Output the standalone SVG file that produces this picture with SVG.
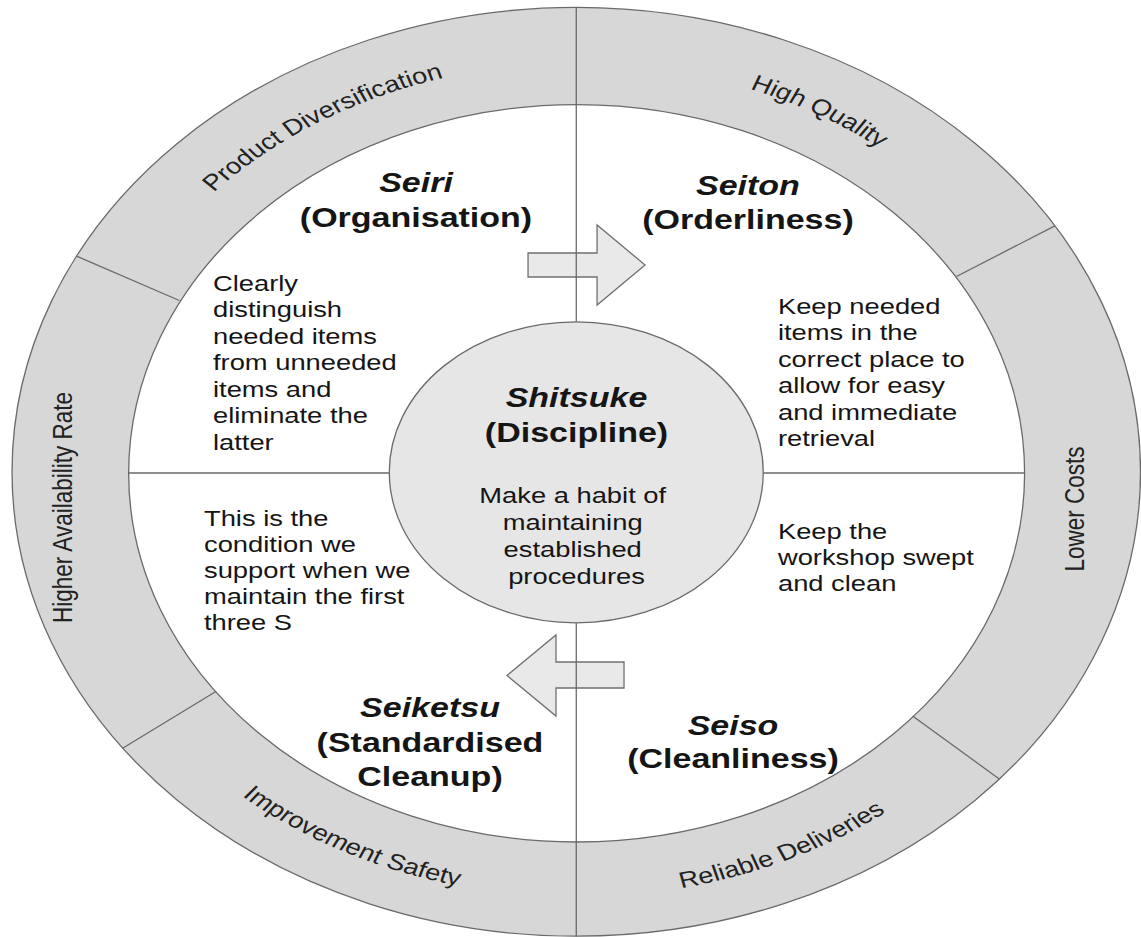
<svg xmlns="http://www.w3.org/2000/svg" width="1141" height="937" viewBox="0 0 1141 937">
  <style>
    .ln { stroke: #6a6a6a; stroke-width: 1.3; fill: none; vector-effect: non-scaling-stroke; }
    .ring { fill: #d7d7d7; stroke: #6a6a6a; stroke-width: 1.3; vector-effect: non-scaling-stroke; }
    .core { fill: #ffffff; stroke: #6a6a6a; stroke-width: 1.3; vector-effect: non-scaling-stroke; }
    .hub { fill: #e6e6e6; stroke: #6a6a6a; stroke-width: 1.3; vector-effect: non-scaling-stroke; }
    .arrow { fill: #e9e9e9; stroke: #707070; stroke-width: 1.3; vector-effect: non-scaling-stroke; }
    text { font-family: "Liberation Sans", Arial, sans-serif; fill: #151515; }
    .body { font-size: 22.5px; }
    .head { font-size: 28px; font-weight: bold; text-anchor: middle; }
    .it { font-style: italic; }
    .mid { text-anchor: middle; }
    .band { font-size: 22.5px; fill: #222; }
  </style>
  <defs>
    <path id="arcProduct" d="M112.2,281.9 A409,409 0 0 1 474.3,63"/>
    <path id="arcQuality" d="M474.3,63 A409,409 0 0 1 821.1,255.3"/>
    <path id="arcSafety" d="M132.6,724.8 A425,425 0 0 0 474.3,897"/>
    <path id="arcDelivery" d="M474.3,897 A425,425 0 0 0 793.1,753.1"/>
  </defs>

  <!-- drawn on a round layout, stretched horizontally -->
  <g transform="scale(1.215 1)">
    <g id="ring">
      <circle class="ring" cx="474.3" cy="471.8" r="464.4"/>
      <circle class="core" cx="474.6" cy="473.3" r="368.7"/>
    </g>

    <g id="ring-labels">
      <text class="band"><textPath href="#arcProduct" startOffset="50%" text-anchor="middle">Product Diversification</textPath></text>
      <text class="band"><textPath href="#arcQuality" startOffset="50%" text-anchor="middle">High Quality</textPath></text>
      <text class="band mid" transform="translate(892.2 509) rotate(-90)">Lower Costs</text>
      <text class="band"><textPath href="#arcDelivery" startOffset="50%" text-anchor="middle">Reliable Deliveries</textPath></text>
      <text class="band"><textPath href="#arcSafety" startOffset="50%" text-anchor="middle">Improvement Safety</textPath></text>
      <text class="band mid" transform="translate(59.3 507.5) rotate(-90)">Higher Availability Rate</text>
    </g>

    <g id="connectors">
      <!-- ring dividers -->
      <line class="ln" x1="63.0" y1="256.1" x2="147.6" y2="300.5"/>
      <line class="ln" x1="868.2" y1="225.9" x2="787.2" y2="276.5"/>
      <line class="ln" x1="100.9" y1="748.3" x2="177.7" y2="691.5"/>
      <line class="ln" x1="822.7" y1="779.2" x2="751.1" y2="716.0"/>
      <!-- flow arrows -->
      <polygon class="arrow" points="434.6,253 491.4,253 491.4,225 530.9,265 491.4,305 491.4,277 434.6,277"/>
      <polygon class="arrow" points="513.6,662 457.6,662 457.6,635 417.3,675.5 457.6,716 457.6,688 513.6,688"/>
      <!-- quadrant axes -->
      <line class="ln" x1="474.3" y1="7.4" x2="474.3" y2="321.8"/>
      <line class="ln" x1="474.3" y1="622.8" x2="474.3" y2="936.2"/>
      <line class="ln" x1="105.9" y1="473" x2="320.4" y2="473"/>
      <line class="ln" x1="628.2" y1="473" x2="843.3" y2="473"/>
    </g>

    <g id="shitsuke">
      <ellipse class="hub" cx="474.3" cy="472.3" rx="153.9" ry="150.5"/>
      <text class="head it" x="474.5" y="407">Shitsuke</text>
      <text class="head" x="474.5" y="442">(Discipline)</text>
      <text class="body mid">
        <tspan x="474.5" y="503">Make a habit of</tspan>
        <tspan x="474.5" y="530">maintaining</tspan>
        <tspan x="474.5" y="557">established</tspan>
        <tspan x="474.5" y="584">procedures</tspan>
      </text>
    </g>

    <g id="seiri">
      <text class="head it" x="342.4" y="192">Seiri</text>
      <text class="head" x="342.4" y="227">(Organisation)</text>
      <text class="body">
        <tspan x="175.3" y="291">Clearly</tspan>
        <tspan x="175.3" y="317.5">distinguish</tspan>
        <tspan x="175.3" y="344">needed items</tspan>
        <tspan x="175.3" y="370.5">from unneeded</tspan>
        <tspan x="175.3" y="397">items and</tspan>
        <tspan x="175.3" y="423.5">eliminate the</tspan>
        <tspan x="175.3" y="450">latter</tspan>
      </text>
    </g>

    <g id="seiton">
      <text class="head it" x="615.6" y="195">Seiton</text>
      <text class="head" x="615.6" y="229">(Orderliness)</text>
      <text class="body">
        <tspan x="640.3" y="314">Keep needed</tspan>
        <tspan x="640.3" y="340.5">items in the</tspan>
        <tspan x="640.3" y="367">correct place to</tspan>
        <tspan x="640.3" y="393.5">allow for easy</tspan>
        <tspan x="640.3" y="420">and immediate</tspan>
        <tspan x="640.3" y="446.5">retrieval</tspan>
      </text>
    </g>

    <g id="seiso">
      <text class="body">
        <tspan x="640.3" y="539">Keep the</tspan>
        <tspan x="640.3" y="565">workshop swept</tspan>
        <tspan x="640.3" y="591">and clean</tspan>
      </text>
      <text class="head it" x="603.3" y="735">Seiso</text>
      <text class="head" x="603.3" y="768">(Cleanliness)</text>
    </g>

    <g id="seiketsu">
      <text class="body">
        <tspan x="167.9" y="526">This is the</tspan>
        <tspan x="167.9" y="552">condition we</tspan>
        <tspan x="167.9" y="578">support when we</tspan>
        <tspan x="167.9" y="604">maintain the first</tspan>
        <tspan x="167.9" y="630">three S</tspan>
      </text>
      <text class="head it" x="353.9" y="717">Seiketsu</text>
      <text class="head" x="353.9" y="752">(Standardised</text>
      <text class="head" x="353.9" y="786">Cleanup)</text>
    </g>
  </g>
</svg>
